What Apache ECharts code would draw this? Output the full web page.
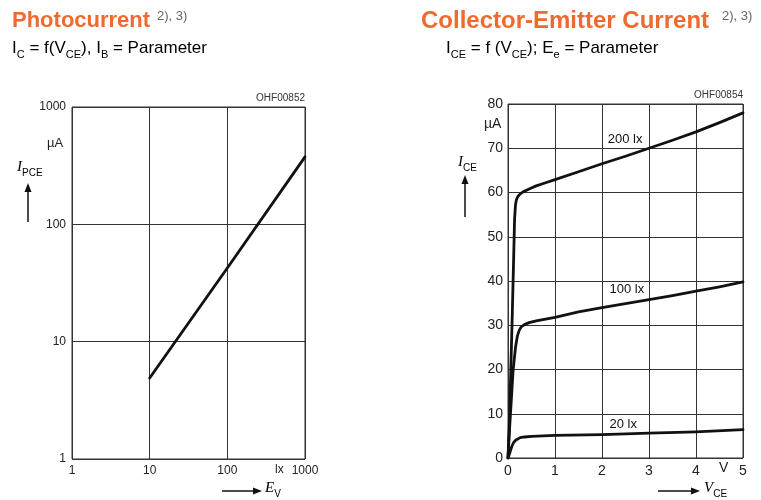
<!DOCTYPE html>
<html><head><meta charset="utf-8">
<script src="https://cdn.jsdelivr.net/npm/echarts@6/dist/echarts.min.js"></script>
<style>html,body{margin:0;padding:0;background:#fff}#c{width:761px;height:500px}</style>
</head><body><div id="c"></div>
<script>
// ---- Left chart: Photocurrent vs illuminance (log-log)
const photoLux = [10, 100, 1000];
const photoCurrent = [4.9, 42.5, 376];

// ---- Right chart: collector-emitter current vs V_CE
const vce200 = [0, 0.03, 0.06, 0.09, 0.12, 0.14, 0.16, 0.18, 0.21, 0.26, 0.33, 0.45, 0.6, 0.8, 1, 1.5, 2, 2.5, 3, 3.5, 4, 4.5, 5];
const ice200 = [0, 8, 20, 32, 45, 54, 57.3, 58.4, 59.1, 59.7, 60.2, 60.8, 61.5, 62.2, 62.9, 64.7, 66.5, 68.2, 70, 71.8, 73.7, 75.8, 78];
const vce100 = [0, 0.03, 0.07, 0.11, 0.16, 0.2, 0.24, 0.28, 0.34, 0.45, 0.6, 0.8, 1, 1.5, 2, 2.5, 3, 3.5, 4, 4.5, 5];
const ice100 = [0, 6, 13, 20, 25, 27.6, 28.9, 29.6, 30.1, 30.6, 31.0, 31.4, 31.8, 33, 34, 34.9, 35.8, 36.7, 37.7, 38.7, 39.8];
const vce20 = [0, 0.04, 0.08, 0.12, 0.16, 0.2, 0.26, 0.35, 0.5, 0.75, 1, 2, 3, 4, 5];
const ice20 = [0, 1.2, 2.6, 3.5, 4.0, 4.35, 4.6, 4.75, 4.9, 5.0, 5.1, 5.3, 5.6, 5.9, 6.4];
const curveNames = ['200 lx', '100 lx', '20 lx'];
const curveLabelAt = [[2.49, 72.1], [2.53, 38.0], [2.45, 7.7]];

const leftTicks = [1, 10, 100, 1000];
const rightXTicks = [0, 1, 2, 3, 4, 5];
const rightYTicks = [0, 10, 20, 30, 40, 50, 60, 70, 80];

const FONT = '"Liberation Sans", Arial, sans-serif';
const zip = (a, b) => a.map((v, i) => [v, b[i]]);

const chart = echarts.init(document.getElementById('c'), null, {renderer: 'canvas'});

function arrow(x1, y1, x2, y2) {
  const dx = x2 - x1, dy = y2 - y1, L = Math.hypot(dx, dy), ux = dx / L, uy = dy / L;
  const hl = 9, hw = 3.5;
  const bx = x2 - ux * hl, by = y2 - uy * hl;
  return [
    {type: 'line', shape: {x1: x1, y1: y1, x2: bx, y2: by}, style: {stroke: '#111', lineWidth: 1.5}},
    {type: 'polygon', shape: {points: [[x2, y2], [bx - uy * hw, by + ux * hw], [bx + uy * hw, by - ux * hw]]}, style: {fill: '#111'}}
  ];
}

const subRich = {
  m: {fontSize: 17, fontFamily: FONT, color: '#666', lineHeight: 22, verticalAlign: 'bottom'},
  s: {fontSize: 11, fontFamily: FONT, color: '#666', lineHeight: 16, verticalAlign: 'bottom', padding: [0, 0, -3, 0]}
};
const axRich = {
  i: {fontSize: 15, fontFamily: '"Liberation Serif", "Times New Roman", serif', fontStyle: 'italic', color: '#111', verticalAlign: 'bottom', lineHeight: 18},
  s: {fontSize: 10, fontFamily: FONT, color: '#111', verticalAlign: 'bottom', lineHeight: 14, padding: [0, 0, -3, 0]}
};

const graphics = [
  {type: 'text', left: 12, top: 10, style: {text: 'Photocurrent', font: 'bold 22px ' + FONT, fill: '#EF6A2E'}},
  {type: 'text', left: 157, top: 10, style: {text: '2), 3)', font: '13px ' + FONT, fill: '#666'}},
  {type: 'text', left: 12, top: 40, style: {text: '{m|I}{s|C}{m| = f(V}{s|CE}{m|), I}{s|B}{m| = Parameter}', rich: subRich}},
  {type: 'text', left: 421, top: 9, style: {text: 'Collector-Emitter Current', font: 'bold 24px ' + FONT, fill: '#EF6A2E'}},
  {type: 'text', left: 722, top: 10, style: {text: '2), 3)', font: '13px ' + FONT, fill: '#666'}},
  {type: 'text', left: 446, top: 40, style: {text: '{m|I}{s|CE}{m| = f (V}{s|CE}{m|); E}{s|e}{m| = Parameter}', rich: subRich}},
  {type: 'text', right: 761 - 305, top: 93, style: {text: 'OHF00852', font: '10px ' + FONT, fill: '#333'}},
  {type: 'text', right: 761 - 743, top: 90, style: {text: 'OHF00854', font: '10px ' + FONT, fill: '#333'}},
  {type: 'text', left: 47, top: 137, style: {text: 'µA', font: '13px ' + FONT, fill: '#222'}},
  {type: 'text', left: 17, top: 160, style: {text: '{i|I}{s|PCE}', rich: axRich}},
  {type: 'text', left: 484, top: 117, style: {text: 'µA', font: '14px ' + FONT, fill: '#222'}},
  {type: 'text', left: 458, top: 155, style: {text: '{i|I}{s|CE}', rich: axRich}},
  {type: 'text', left: 275, top: 464, style: {text: 'lx', font: '12px ' + FONT, fill: '#222'}},
  {type: 'text', left: 719, top: 461, style: {text: 'V', font: '14px ' + FONT, fill: '#222'}},
  {type: 'text', left: 265, top: 481, style: {text: '{i|E}{s|V}', rich: axRich}},
  {type: 'text', left: 704, top: 481, style: {text: '{i|V}{s|CE}', rich: axRich}}
].concat(arrow(28, 222, 28, 183), arrow(465, 217, 465, 175), arrow(222, 491, 262, 491), arrow(658, 491, 700, 491));

const splitLine = {show: true, lineStyle: {color: '#333', width: 1}};
const lineStyle = {color: '#111', width: 2.8, join: 'round', cap: 'round'};
const plain = v => String(v);

chart.setOption({
  animation: false,
  backgroundColor: '#fff',
  textStyle: {fontFamily: FONT},
  grid: [
    {left: 72, top: 107, width: 233, height: 352, show: true, borderColor: '#333', borderWidth: 1, backgroundColor: 'transparent'},
    {left: 508, top: 104, width: 235, height: 354, show: true, borderColor: '#333', borderWidth: 1, backgroundColor: 'transparent'}
  ],
  xAxis: [
    {type: 'log', logBase: 10, min: leftTicks[0], max: leftTicks[leftTicks.length - 1], gridIndex: 0,
     axisLine: {show: false}, axisTick: {show: false}, splitLine: splitLine,
     axisLabel: {color: '#222', fontSize: 12, margin: 6, showMinLabel: true, showMaxLabel: true, formatter: plain}},
    {type: 'value', min: rightXTicks[0], max: rightXTicks[rightXTicks.length - 1], interval: 1, gridIndex: 1,
     axisLine: {show: false}, axisTick: {show: false}, splitLine: splitLine,
     axisLabel: {color: '#222', fontSize: 14, margin: 6}}
  ],
  yAxis: [
    {type: 'log', logBase: 10, min: leftTicks[0], max: leftTicks[leftTicks.length - 1], gridIndex: 0,
     axisLine: {show: false}, axisTick: {show: false}, splitLine: splitLine,
     axisLabel: {color: '#222', fontSize: 12, margin: 6, showMinLabel: true, showMaxLabel: true, formatter: plain}},
    {type: 'value', min: rightYTicks[0], max: rightYTicks[rightYTicks.length - 1], interval: 10, gridIndex: 1,
     axisLine: {show: false}, axisTick: {show: false}, splitLine: splitLine,
     axisLabel: {color: '#222', fontSize: 14, margin: 5}}
  ],
  series: [
    {type: 'line', xAxisIndex: 0, yAxisIndex: 0, data: zip(photoLux, photoCurrent), showSymbol: false, lineStyle: lineStyle, silent: true},
    {type: 'line', xAxisIndex: 1, yAxisIndex: 1, data: zip(vce200, ice200), showSymbol: false, smooth: false, lineStyle: lineStyle, silent: true},
    {type: 'line', xAxisIndex: 1, yAxisIndex: 1, data: zip(vce100, ice100), showSymbol: false, smooth: false, lineStyle: lineStyle, silent: true},
    {type: 'line', xAxisIndex: 1, yAxisIndex: 1, data: zip(vce20, ice20), showSymbol: false, smooth: false, lineStyle: lineStyle, silent: true},
    {type: 'scatter', xAxisIndex: 1, yAxisIndex: 1, symbolSize: 0, silent: true, itemStyle: {opacity: 1},
     data: curveNames.map((n, i) => ({name: n, value: curveLabelAt[i]})),
     label: {show: true, position: 'inside', formatter: p => p.name, color: '#111', opacity: 1, fontSize: 13, fontFamily: FONT, backgroundColor: '#fff', padding: [0, 1]}}
  ],
  graphic: graphics
});
</script></body></html>
